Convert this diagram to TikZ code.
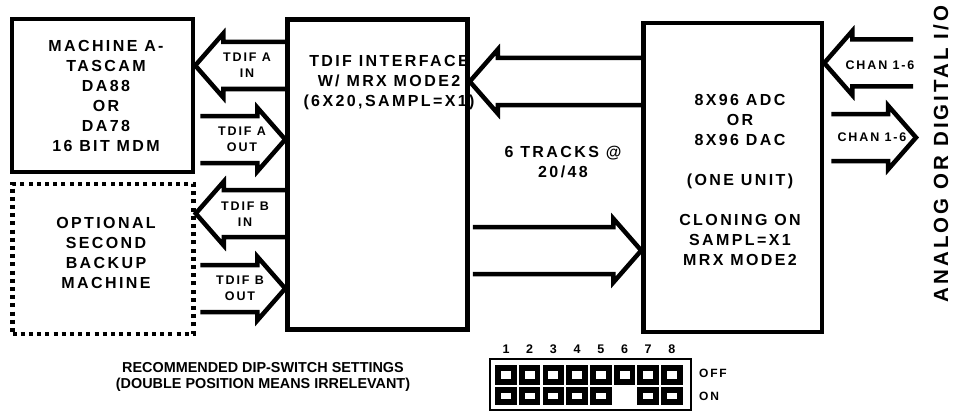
\documentclass[tikz,border=0pt]{standalone}
\usepackage{fontspec}
\setmainfont{Liberation Sans}
\newfontfamily\spaced[LetterSpace=15]{Liberation Sans}
\usetikzlibrary{positioning, calc}
% open block arrow: tail, tip
\newcommand{\fatarrow}[2]{%
  \draw[fatline] ($(#1)+(0,-23.5)$) -- ($(#2)!28pt!(#1)+(0,-23.5)$)
    -- ($(#2)!28pt!(#1)+(0,-32)$) -- (#2) -- ($(#2)!28pt!(#1)+(0,32)$)
    -- ($(#2)!28pt!(#1)+(0,23.5)$) -- ($(#1)+(0,23.5)$);
}
\tikzset{
    x=1pt, y=-1pt,
    block/.style={draw, line width=4.5pt, inner sep=0pt},
    optblock/.style={block, dash pattern=on 4pt off 4.2pt},
    blocktext/.style={align=center, inner sep=0pt, font=\spaced\bfseries\fontsize{16}{20}\selectfont},
    armtext/.style={align=center, inner sep=0pt, font=\spaced\bfseries\fontsize{12.5}{16}\selectfont},
    fatline/.style={line width=4.5pt},
    captext/.style={align=center, inner sep=0pt, font=\bfseries\fontsize{14.4}{16}\selectfont},
    dipnum/.style={inner sep=0pt, font=\bfseries\fontsize{12.5}{14}\selectfont},
    diplbl/.style={anchor=west, inner sep=0pt, font=\spaced\bfseries\fontsize{12}{14}\selectfont},
    dipcell/.style={draw, fill=white, line width=5.75pt, minimum width=15.75pt,
        minimum height=14pt, inner sep=0pt},
}
\begin{document}
\begin{tikzpicture}
    \useasboundingbox (0,0) rectangle (956,412);

    % units
    \node[block, minimum width=181pt, minimum height=153pt]   (machA)  at (102.5,95.5) {};
    \node[optblock, minimum width=181pt, minimum height=150pt] (backup) at (103,259) {};
    \node[block, minimum width=180pt, minimum height=310pt]   (iface)  at (377.5,174.5) {};
    \node[block, minimum width=178.5pt, minimum height=309pt] (conv)   at (732.75,177.5) {};

    \node[blocktext] (machAtxt)  at (106,96)  {MACHINE A-\\TASCAM\\DA88\\OR\\DA78\\16 BIT MDM};
    \node[blocktext] (backuptxt) at (106,253) {OPTIONAL\\SECOND\\BACKUP\\MACHINE};
    \node[blocktext] (ifacetxt)  at (389,83)  {TDIF INTERFACE\\W/ MRX MODE2\\(6X20,SAMPL=X1)};
    \node[blocktext] (convtxt)   at (740,180) {8X96 ADC\\OR\\8X96 DAC\\[20pt](ONE UNIT)\\[20pt]CLONING ON\\SAMPL=X1\\MRX MODE2};
    \node[blocktext] (tracks)    at (563,162) {6 TRACKS @\\20/48};
    \node[rotate=90, inner sep=0pt, font=\spaced\bfseries\fontsize{20.5}{24}\selectfont]
        (io) at (941,154) {ANALOG OR DIGITAL I/O};

    % arrow rows
    \coordinate (rowAin)   at (0,65.5);
    \coordinate (rowAout)  at (0,139.5);
    \coordinate (rowBin)   at (0,213.5);
    \coordinate (rowBout)  at (0,288.5);
    \coordinate (rowBack)  at (0,81.5);
    \coordinate (rowFwd)   at (0,250.5);
    \coordinate (aOutTail) at ($(machA.east |- rowAout)+(5,0)$);
    \coordinate (bOutTail) at ($(machA.east |- rowBout)+(5,0)$);
    \coordinate (fwdTail)  at ($(iface.east |- rowFwd)+(3,0)$);
    \coordinate (chanInTail)  at (913,63);
    \coordinate (chanOutTail) at ($(conv.east)+(7,0)$);
    \coordinate (chanOutTip)  at (916,137.5);

    \fatarrow{iface.west |- rowAin}{machA.east |- rowAin}
    \fatarrow{aOutTail}{iface.west |- rowAout}
    \fatarrow{iface.west |- rowBin}{backup.east |- rowBin}
    \fatarrow{bOutTail}{iface.west |- rowBout}
    \fatarrow{conv.west |- rowBack}{iface.east |- rowBack}
    \fatarrow{fwdTail}{conv.west |- rowFwd}
    \fatarrow{chanInTail}{conv.east |- chanInTail}
    \fatarrow{chanOutTail |- chanOutTip}{chanOutTip}

    \node[armtext] (aInLbl)     at (247,65)  {TDIF A\\IN};
    \node[armtext] (aOutLbl)    at (242,139) {TDIF A\\OUT};
    \node[armtext] (bInLbl)     at (245,214) {TDIF B\\IN};
    \node[armtext] (bOutLbl)    at (240,288) {TDIF B\\OUT};
    \node[armtext] (chanInLbl)  at (880,65)  {CHAN 1-6};
    \node[armtext] (chanOutLbl) at (872,137) {CHAN 1-6};

    % dip switches
    \node[captext] (dipnote) at (263,377) {RECOMMENDED DIP-SWITCH SETTINGS\\(DOUBLE POSITION MEANS IRRELEVANT)};
    \node[draw, line width=2pt, minimum width=201pt, minimum height=51pt, inner sep=0pt] (dip) at (590.5,384.5) {};
    \foreach \i in {1,...,8} {
        \node[dipcell] (off\i) at ({506+(\i-1)*23.7},375) {};
        \node[dipnum]  (num\i) at ({506+(\i-1)*23.7},349) {\i};
    }
    \foreach \i in {1,2,3,4,5,7,8}
        \node[dipcell, minimum height=12.25pt] (on\i) at ({506+(\i-1)*23.7},396) {};
    \node[diplbl] (offLbl) at (699,373) {OFF};
    \node[diplbl] (onLbl)  at (699,396) {ON};
\end{tikzpicture}
\end{document}
